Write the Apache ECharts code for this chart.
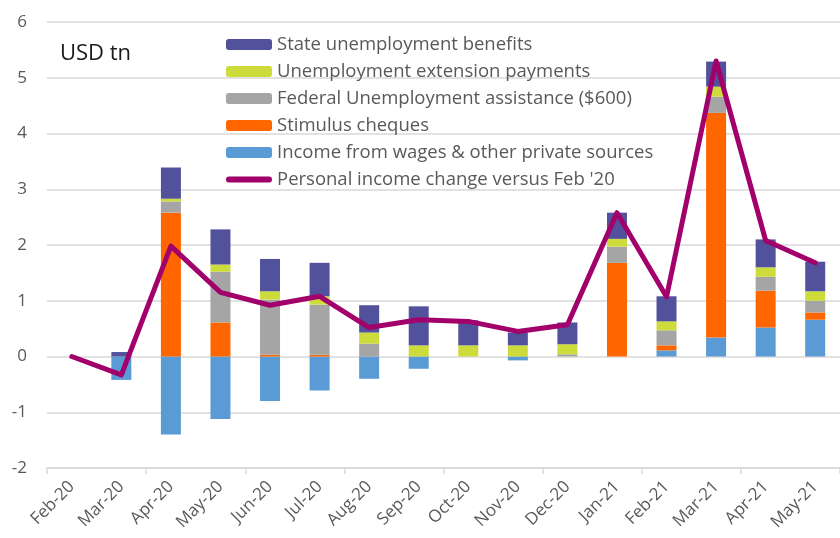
<!DOCTYPE html>
<html><head><meta charset="utf-8">
<script src="https://cdn.jsdelivr.net/npm/echarts@6/dist/echarts.min.js"></script>
<style>html,body{margin:0;padding:0;background:#fff}#c{width:840px;height:538px}</style>
</head><body><div id="c"></div>
<script>
const categories = ['Feb-20','Mar-20','Apr-20','May-20','Jun-20','Jul-20','Aug-20','Sep-20','Oct-20','Nov-20','Dec-20','Jan-21','Feb-21','Mar-21','Apr-21','May-21'];
const wages     = [0, -0.42, -1.40, -1.12, -0.80, -0.61, -0.40, -0.22, 0, -0.07, 0, 0, 0.11, 0.34, 0.52, 0.66];
const stimulus  = [0, 0, 2.58, 0.61, 0.03, 0.03, 0, 0, 0, 0, 0, 1.68, 0.09, 4.03, 0.66, 0.13];
const federal   = [0, 0, 0.20, 0.91, 0.99, 0.90, 0.23, 0, 0, 0, 0.04, 0.29, 0.27, 0.29, 0.25, 0.21];
const extension = [0, 0, 0.05, 0.13, 0.15, 0.15, 0.20, 0.20, 0.20, 0.20, 0.18, 0.14, 0.16, 0.18, 0.17, 0.17];
const stateBen  = [0, 0.08, 0.56, 0.63, 0.58, 0.60, 0.49, 0.70, 0.45, 0.23, 0.39, 0.47, 0.45, 0.45, 0.50, 0.53];
const personal  = [0, -0.33, 1.98, 1.15, 0.92, 1.08, 0.52, 0.66, 0.63, 0.45, 0.57, 2.58, 1.07, 5.30, 2.08, 1.68];
const yTicks = [-2, -1, 0, 1, 2, 3, 4, 5, 6];

const names = {
  state: 'State unemployment benefits',
  ext: 'Unemployment extension payments',
  fed: 'Federal Unemployment assistance ($600)',
  stim: 'Stimulus cheques',
  wage: 'Income from wages & other private sources',
  pers: "Personal income change versus Feb '20"
};
const FONT = 'Open Sans';
const LINE_COLOR = '#A2006A';
const chart = echarts.init(document.getElementById('c'), null, {renderer: 'canvas'});
function bar(name, data, color) {
  return { name, type: 'bar', stack: 'total', data, barWidth: 20,
    itemStyle: { color }, emphasis: { disabled: true } };
}
chart.setOption({
  animation: false,
  textStyle: { fontFamily: FONT },
  grid: { left: 47, right: -7, top: 22, bottom: 70, containLabel: false },
  graphic: [{ type: 'text', left: 60, top: 43,
    style: { text: 'USD tn', fontSize: 22, fill: '#1a1a1a', fontFamily: FONT } }],
  legend: {
    orient: 'vertical', left: 221, top: 30, itemWidth: 46, itemHeight: 11, itemGap: 8,
    symbolKeepAspect: true,
    data: [names.state, names.ext, names.fed, names.stim, names.wage,
      { name: names.pers, icon: 'path://M3,0 L43,0 A3,3 0 0 1 43,6 L3,6 A3,3 0 0 1 3,0 Z',
        itemStyle: { color: LINE_COLOR } }],
    textStyle: { fontSize: 18.5, color: '#595959', fontFamily: FONT, lineHeight: 18 },
    selectedMode: false
  },
  xAxis: [
    { type: 'category', data: categories, position: 'bottom',
      axisLine: { show: false }, axisTick: { show: false },
      axisLabel: { rotate: 45, fontSize: 17, color: '#595959', margin: 16, interval: 0, fontFamily: FONT } },
    { type: 'category', data: categories, position: 'bottom',
      axisLine: { show: true, onZero: true, lineStyle: { color: '#d9d9d9', width: 1.5 } },
      axisTick: { show: true, length: 6, lineStyle: { color: '#d9d9d9', width: 1.5 } },
      axisLabel: { show: false } }
  ],
  yAxis: {
    type: 'value', min: -2, max: 6, interval: 1,
    axisLine: { show: false }, axisTick: { show: false },
    axisLabel: { fontSize: 17, color: '#595959', margin: 20, fontFamily: FONT,
      formatter: v => yTicks.includes(v) ? String(v) : '' },
    splitLine: { lineStyle: { color: '#d9d9d9', width: 1.5 } }
  },
  series: [
    bar(names.wage, wages, '#5B9BD5'),
    bar(names.stim, stimulus, '#FF6600'),
    bar(names.fed, federal, '#A5A5A5'),
    bar(names.ext, extension, '#CDDB3B'),
    bar(names.state, stateBen, '#52519B'),
    { name: names.pers, type: 'line', data: personal, showSymbol: false, symbol: 'none',
      lineStyle: { color: LINE_COLOR, width: 5, cap: 'round', join: 'round' },
      itemStyle: { color: LINE_COLOR }, z: 10, emphasis: { disabled: true } }
  ]
});
</script></body></html>
